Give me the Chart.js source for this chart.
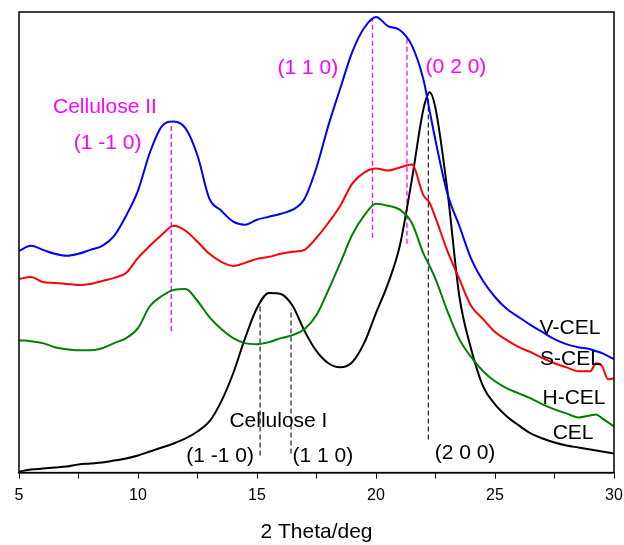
<!DOCTYPE html>
<html>
<head>
<meta charset="utf-8">
<script src="https://cdn.jsdelivr.net/npm/chart.js@4"></script>
<style>
  body { margin: 0; background: #fff; }
</style>
</head>
<body>
<canvas id="xrd" width="624" height="545"></canvas>
<script>
// 2 theta grid (deg)
var twoTheta = [5, 5.5, 6, 6.5, 7, 7.5, 8, 8.5, 9, 9.5, 10, 10.5, 11, 11.5, 12, 12.5, 13, 13.5, 14, 14.5,
  15, 15.5, 16, 16.5, 17, 17.5, 18, 18.5, 19, 19.5, 20, 20.5, 21, 21.5, 22, 22.25, 22.5, 23, 23.5, 24,
  24.5, 25, 25.5, 26, 26.5, 27, 27.5, 28, 28.5, 29, 29.25, 29.5, 29.75, 30];

// intensities (a.u., offset stacked as in the figure)
var vCel = [221, 226, 222, 218, 216, 218, 222, 226, 236, 256, 281, 319, 345, 350, 343, 316, 273, 261, 250, 247,
  252, 255, 258, 262, 273, 304, 346, 383, 419, 443, 454, 445, 441, 426, 391, 361, 331, 278, 246, 213,
  191, 175, 163, 155, 147, 140, 133, 128, 125, 123, 121, 119, 116, 113];
var sCel = [193, 195, 190, 189, 188, 187, 188, 191, 194, 199, 214, 226, 237, 246, 241, 230, 218, 210, 206, 209,
  213, 215, 218, 220, 222, 234, 249, 266, 288, 299, 303, 301, 304, 307, 276, 269, 254, 221, 193, 166,
  153, 140, 132, 125, 120, 114, 109, 105, 101, 101, 109, 106, 93, 94];
var hCel = [132, 131, 129, 125, 123, 122, 122, 124, 129, 134, 144, 166, 176, 182, 183, 171, 155, 143, 134, 129,
  128, 130, 134, 137, 143, 157, 182, 209, 237, 256, 268, 266, 262, 249, 218, 206, 193, 161, 133, 115,
  101, 91, 84, 79, 74, 68, 63, 59, 55, 57, 58, 54, 50, 46];
var cel = [1, 3, 4, 5, 6, 8, 9, 10, 12, 14, 17, 21, 25, 29, 34, 41, 51, 71, 99, 134,
  164, 179, 178, 166, 141, 121, 109, 105, 110, 129, 159, 188, 226, 291, 363, 379, 363, 281, 176, 123,
  86, 68, 56, 47, 39, 34, 30, 27, 25, 23, 22, 21, 20, 19];

var seriesNames = ["V-CEL", "S-CEL", "H-CEL", "CEL"];
var seriesColors = ["#0000ff", "#ff0000", "#008000", "#000000"];
var majorTicks = [5, 10, 15, 20, 25, 30];

// peak marker lines: x position, from / to intensity
var cellulose2Lines = [[11.4, 141, 346], [19.85, 234, 453], [21.3, 228, 433]];
var cellulose1Lines = [[15.13, 17, 166], [16.43, 19, 163], [22.2, 33, 378]];

// labels: text, x (deg), y (intensity), colour
var peakLabels = [
  ["Cellulose II", 8.61, 364, "#ff00ff"],
  ["(1 -1 0)", 8.72, 328, "#ff00ff"],
  ["(1 1 0)", 17.14, 403, "#ff00ff"],
  ["(0 2 0)", 23.36, 404, "#ff00ff"],
  ["Cellulose I", 15.9, 51, "#000000"],
  ["(1 -1 0)", 13.45, 16, "#000000"],
  ["(1 1 0)", 17.77, 16, "#000000"],
  ["(2 0 0)", 23.74, 19, "#000000"]
];
var seriesLabels = [
  ["V-CEL", 28.15, 144],
  ["S-CEL", 28.19, 113],
  ["H-CEL", 28.32, 74],
  ["CEL", 28.28, 39]
];

function toPoints(ys) {
  return twoTheta.map(function(t, i) { return { x: t, y: ys[i] }; });
}

var allSeries = [vCel, sCel, hCel, cel];
var datasets = allSeries.map(function(ys, i) {
  return {
    label: seriesNames[i],
    data: toPoints(ys),
    borderColor: seriesColors[i],
    borderWidth: 2,
    pointRadius: 0,
    fill: false,
    cubicInterpolationMode: "monotone"
  };
});

var FONT = "'Liberation Sans', Arial, sans-serif";

var decorations = {
  id: "decorations",
  beforeDatasetsDraw: function(chart) {
    var ctx = chart.ctx, xs = chart.scales.x, ys = chart.scales.y;
    ctx.save();
    ctx.lineWidth = 1.3;
    ctx.setLineDash([5, 3]);
    ctx.strokeStyle = "#ff00ff";
    cellulose2Lines.forEach(function(l) {
      var px = xs.getPixelForValue(l[0]);
      ctx.beginPath();
      ctx.moveTo(px, ys.getPixelForValue(l[1]));
      ctx.lineTo(px, ys.getPixelForValue(l[2]));
      ctx.stroke();
    });
    ctx.strokeStyle = "#333333";
    cellulose1Lines.forEach(function(l) {
      var px = xs.getPixelForValue(l[0]);
      ctx.beginPath();
      ctx.moveTo(px, ys.getPixelForValue(l[1]));
      ctx.lineTo(px, ys.getPixelForValue(l[2]));
      ctx.stroke();
    });
    ctx.restore();
  },
  afterDraw: function(chart) {
    var ctx = chart.ctx, xs = chart.scales.x, ys = chart.scales.y, a = chart.chartArea;
    ctx.save();
    // frame
    ctx.strokeStyle = "#000";
    ctx.lineWidth = 1.5;
    ctx.strokeRect(a.left, a.top, a.right - a.left, a.bottom - a.top);
    // text
    ctx.font = "21px " + FONT;
    ctx.textAlign = "center";
    ctx.textBaseline = "middle";
    peakLabels.forEach(function(p) {
      ctx.fillStyle = p[3];
      ctx.fillText(p[0], xs.getPixelForValue(p[1]), ys.getPixelForValue(p[2]));
    });
    ctx.fillStyle = "#000";
    seriesLabels.forEach(function(p) {
      ctx.fillText(p[0], xs.getPixelForValue(p[1]), ys.getPixelForValue(p[2]));
    });
    ctx.restore();
  }
};

new Chart(document.getElementById("xrd"), {
  type: "line",
  data: { datasets: datasets },
  options: {
    responsive: false,
    animation: false,
    layout: { padding: { left: 19, right: 0, top: 12, bottom: 0 } },
    plugins: {
      legend: { display: false },
      tooltip: { enabled: false }
    },
    scales: {
      x: {
        type: "linear",
        min: 5,
        max: 30,
        afterFit: function(scale) {
          // let the "30" label hang past the frame like the original
          scale.paddingLeft = 0;
          scale.paddingRight = 10;
        },
        border: { display: true, color: "#000", width: 1.5 },
        grid: { drawOnChartArea: false, drawTicks: true, tickLength: 6, color: "#000", lineWidth: 1 },
        ticks: {
          stepSize: 2.5,
          autoSkip: false,
          maxRotation: 0,
          padding: 7,
          color: "#000",
          font: { family: FONT, size: 16 },
          callback: function(v) { return majorTicks.indexOf(v) >= 0 ? String(v) : ""; }
        },
        title: {
          display: true,
          text: "2 Theta/deg",
          color: "#000",
          font: { family: FONT, size: 21 },
          padding: { top: 8, bottom: 0 }
        }
      },
      y: {
        display: false,
        min: 0,
        max: 459
      }
    }
  },
  plugins: [decorations]
});
</script>
</body>
</html>
